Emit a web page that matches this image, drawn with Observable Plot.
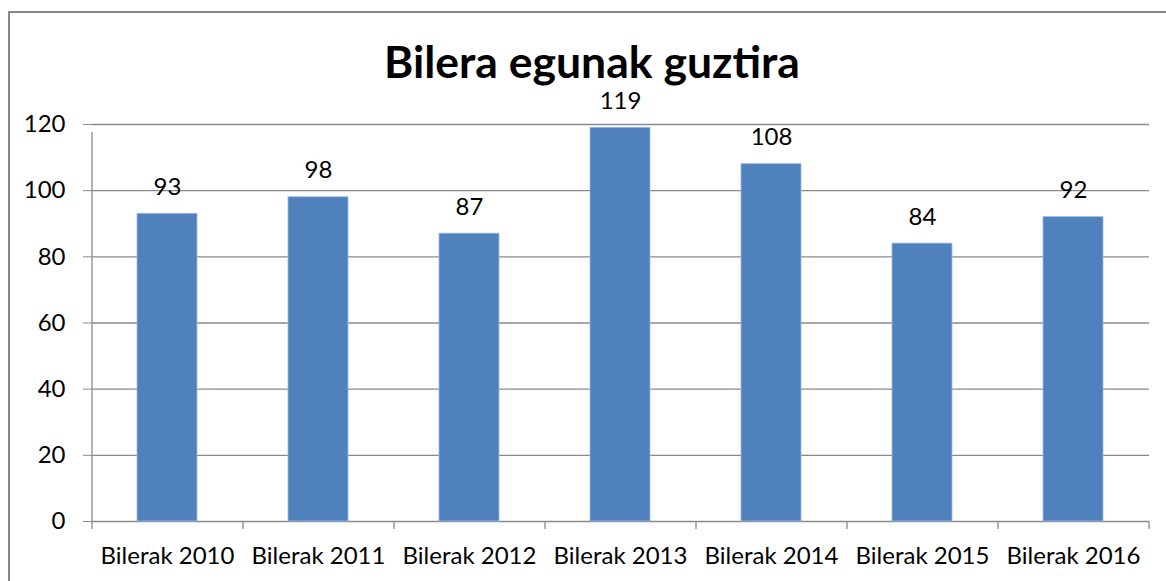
<!DOCTYPE html>
<html>
<head>
<meta charset="utf-8">
<script src="https://cdn.jsdelivr.net/npm/d3@7"></script>
<script src="https://cdn.jsdelivr.net/npm/@observablehq/plot@0.6"></script>
<style>
  body { margin: 0; background: #fff; }
  #wrap { position: relative; width: 1166px; height: 581px; overflow: hidden; background: #fff; font-family: Lato, "Liberation Sans", sans-serif; }
  #frame { position: absolute; left: 8px; top: 11px; width: 1220px; height: 640px; border: 2px solid #878787; box-sizing: border-box; }
  #title { position: absolute; left: 0; width: 1184px; top: 39px; text-align: center; font-weight: bold; font-size: 44.5px; line-height: 44px; color: #000; }
  #chart { position: absolute; left: 0; top: 0; }
</style>
</head>
<body>
<div id="wrap">
  <div id="frame"></div>
  <div id="chart"></div>
  <div id="title">Bilera egunak guztira</div>
</div>
<script>
const titleText = "Bilera egunak guztira";
const categories = ["Bilerak 2010", "Bilerak 2011", "Bilerak 2012", "Bilerak 2013", "Bilerak 2014", "Bilerak 2015", "Bilerak 2016"];
const values = [93, 98, 87, 119, 108, 84, 92];
const yTicks = [0, 20, 40, 60, 80, 100, 120];

const data = categories.map((c, i) => ({cat: c, value: values[i]}));

const W = 1166, H = 581;
const mL = 92, mR = 17, mT = 124, mB = 60;
const step = (W - mL - mR) / categories.length;
const grid = "#8a8a8a";

const chart = Plot.plot({
  width: W,
  height: H,
  marginLeft: mL,
  marginRight: mR,
  marginTop: mT,
  marginBottom: mB,
  style: {fontFamily: "Lato, 'Liberation Sans', sans-serif", fontSize: "24px", color: "#000", background: "transparent", overflow: "visible"},
  x: {domain: categories, paddingInner: 0.6, paddingOuter: 0.3},
  y: {domain: [0, 120]},
  marks: [
    Plot.ruleY(yTicks, {stroke: grid, strokeWidth: 1.3}),
    Plot.barY(data, {x: "cat", y: "value", fill: "#4F81BD", stroke: "#9dbbe0", strokeWidth: 0.8}),
    // category boundary ticks and left axis line
    Plot.ruleX(categories, {x: d => d, dx: -step / 2, y1: 0, y2: 0, insetBottom: -8, stroke: grid, strokeWidth: 1.3}),
    Plot.ruleX(categories.slice(-1), {x: d => d, dx: step / 2, y1: 0, y2: 0, insetBottom: -8, stroke: grid, strokeWidth: 1.3}),
    Plot.ruleX(categories.slice(0, 1), {x: d => d, dx: -step / 2, y1: 0, y2: 120, insetBottom: -8, stroke: grid, strokeWidth: 1.3}),
    Plot.axisY({ticks: yTicks, tickSize: 9, tickPadding: 18, stroke: grid, fill: "#000", fontSize: 24, label: null}),
    Plot.axisX({tickSize: 0, tickPadding: 25, fill: "#000", fontSize: 24, label: null}),
    Plot.text(data, {x: "cat", y: "value", text: d => String(d.value), dy: -26.5, fill: "#000", fontSize: 24})
  ]
});
document.getElementById("chart").appendChild(chart);
document.getElementById("title").textContent = titleText;
</script>
</body>
</html>
